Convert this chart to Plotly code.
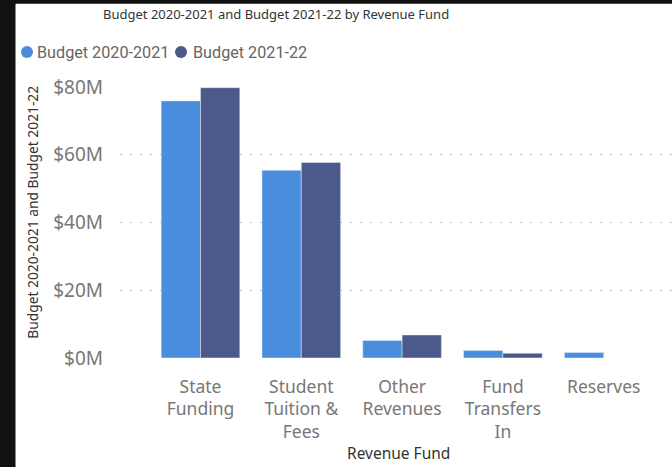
import plotly.graph_objects as go

categories = ["State Funding", "Student Tuition & Fees", "Other Revenues", "Fund Transfers In", "Reserves"]
tick_labels = ["State<br>Funding", "Student<br>Tuition &<br>Fees", "Other<br>Revenues", "Fund<br>Transfers<br>In", "Reserves"]
budget_2020_21 = [75.9, 55.4, 5.2, 2.2, 1.6]
budget_2021_22 = [79.8, 57.7, 6.8, 1.4, None]
y_ticks = [0, 20, 40, 60, 80]
y_tick_labels = ["$0M", "$20M", "$40M", "$60M", "$80M"]
series_names = ["Budget 2020-2021", "Budget 2021-22"]

C1 = "#4a8ddc"
C2 = "#4b5a8a"
FONT = "Noto Sans"

W, H = 672, 467
L, R, T, B = 120, 0, 87, 108.5
pw, ph = W - L - R, H - T - B

def px_x(x):
    return (x - L) / pw

def px_y(y):
    return 1 - (y - T) / ph

fig = go.Figure()
fig.add_trace(go.Bar(x=categories, y=budget_2020_21, name=series_names[0], marker_color=C1, showlegend=False))
fig.add_trace(go.Bar(x=categories, y=budget_2021_22, name=series_names[1], marker_color=C2, showlegend=False))

center0, spacing = 200.5, 100.8
xr = [(L - center0) / spacing, (W - R - center0) / spacing]

def ann(text, x, y, size, color, family=FONT, **kw):
    d = dict(text=text, x=px_x(x), y=px_y(y), xref="paper", yref="paper",
             xanchor=kw.pop("xanchor", "center"), yanchor="middle", showarrow=False,
             font=dict(family=family, size=size, color=color))
    d.update(kw)
    return d

annotations = [
    ann("Budget 2020-2021 and Budget 2021-22 by Revenue Fund", 276, 14, 13, "#333"),
    ann(series_names[0], 35, 52, 16.2, "#666", family="Roboto", xanchor="left"),
    ann(series_names[1], 191, 52, 16.2, "#666", family="Roboto", xanchor="left"),
    ann("Budget 2020-2021 and Budget 2021-22", 33, 213, 13.8, "#333", textangle=-90),
    ann("Revenue Fund", 398, 454, 15.5, "#333"),
]

def circle(cx, cy, r, color):
    return dict(type="circle", xref="paper", yref="paper",
                x0=px_x(cx - r), x1=px_x(cx + r), y0=px_y(cy + r), y1=px_y(cy - r),
                fillcolor=color, line_width=0, layer="above")

shapes = [
    dict(type="rect", xref="paper", yref="paper", x0=px_x(-5), x1=px_x(15.5), y0=px_y(H + 5), y1=px_y(-5),
         fillcolor="#111", line_width=0, layer="above"),
    dict(type="rect", xref="paper", yref="paper", x0=px_x(-5), x1=px_x(W + 5), y0=px_y(3.5), y1=px_y(-5),
         fillcolor="#111", line_width=0, layer="above"),
    circle(27, 52, 6, C1),
    circle(181, 52, 6, C2),
]

fig.update_layout(
    width=W, height=H,
    margin=dict(l=L, r=R, t=T, b=B, pad=0),
    paper_bgcolor="white", plot_bgcolor="white",
    barmode="group", bargap=0.22, bargroupgap=0,
    annotations=annotations, shapes=shapes,
    font=dict(family=FONT),
)
fig.update_xaxes(range=xr, tickvals=categories, ticktext=tick_labels, showgrid=False, zeroline=False,
                 showline=False, ticks="", ticklabelstandoff=16,
                 tickfont=dict(family=FONT, size=17.5, color="#777"))
fig.update_yaxes(range=[0, 80], tickvals=y_ticks, ticktext=y_tick_labels, showgrid=True,
                 gridcolor="#bdbdbd", griddash="2px,8px", gridwidth=1, zeroline=False, showline=False,
                 ticks="", ticklabelstandoff=16, tickfont=dict(family=FONT, size=19, color="#777"))

fig.write_html("out.html", config={"displayModeBar": False},
               post_script="document.body.style.margin='0';document.body.style.overflow='hidden';")
